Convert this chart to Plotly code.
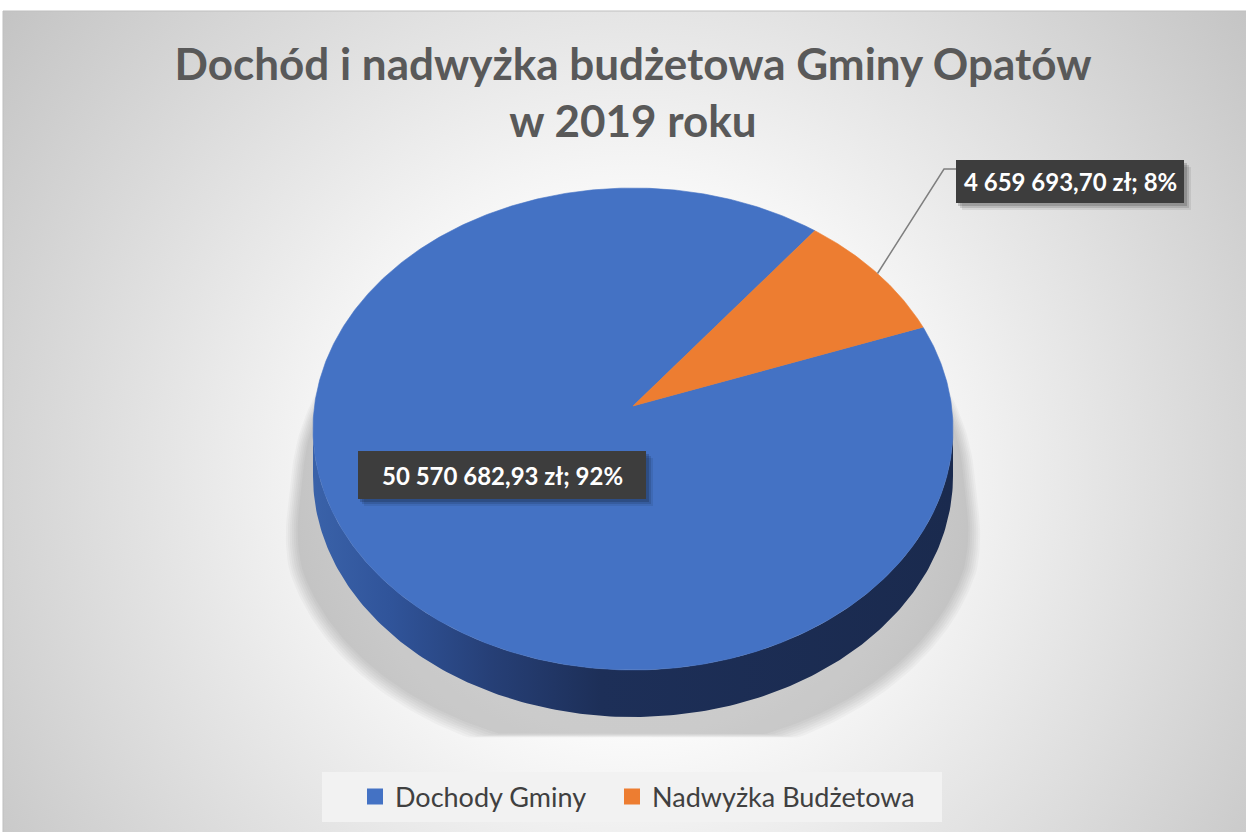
import base64
import numpy as np
import plotly.graph_objects as go

# ---------------- data ----------------
categories = ["Dochody Gminy", "Nadwyżka Budżetowa"]
values = [50570682.93, 4659693.70]
colors = ["#4472C4", "#ED7D31"]
title_lines = ["Dochód i nadwyżka budżetowa Gminy Opatów", "w 2019 roku"]

# ---------------- geometry / style ----------------
W, H = 1246, 832
CX, CY = 633, 429          # ellipse centre of top face (pixels)
RX, RY = 320, 241          # ellipse radii
APEX = (633, 406)          # apparent apex of the slices (perspective)
DEPTH = 47                 # thickness of the 3D pie
FIRST_ANGLE = 65           # angle of first slice (deg clockwise from top)
FONT = "Lato"
SHADOW_FLOOR = 734
LEGEND_X = [355, 612]      # left edge (px) of each legend entry


def ell(t_deg, dy=0.0, grow=0.0):
    t = np.radians(t_deg)
    return CX + (RX + grow) * np.sin(t), CY + dy - (RY + grow) * np.cos(t)


def fmt_money(v):
    s = f"{v:,.2f}"
    return s.replace(",", " ").replace(".", ",") + " zł"


total = sum(values)
angles = []
a = FIRST_ANGLE
for v in values:
    span = v / total * 360.0
    angles.append((a, a + span))
    a += span

fig = go.Figure()

# ---- soft perspective shadow behind/below the pie ----
for k in range(7):
    g = k * 1.8
    ts = np.linspace(-90, 90, 120)
    xt, yt = ell(ts, grow=g)
    ts2 = np.linspace(90, 270, 160)
    xb, yb = ell(ts2, dy=DEPTH, grow=g)
    xs = np.concatenate([xb, xt])
    ys = np.concatenate([yb, yt])
    ys2 = np.minimum(ys + 36 + g * 0.3, SHADOW_FLOOR + k * 0.6)
    f = 1 + 0.065 * np.clip((ys2 - 380) / 190, 0, 1)
    xs2 = CX + (xs - CX) * f
    fig.add_trace(go.Scatter(x=xs2, y=ys2, fill="toself", mode="lines",
                             line=dict(width=0), fillcolor="rgba(0,0,0,0.028)",
                             hoverinfo="skip", showlegend=False))

# ---- side wall (visible front half) ----
for (a0, a1), col in zip(angles, colors):
    lo = max(a0, 90)
    hi = min(a1, 270)
    if hi <= lo:
        continue
    ts = np.linspace(lo, hi, 200)
    xt, yt = ell(ts)
    xb, yb = ell(ts[::-1], dy=DEPTH)
    xs = np.concatenate([xt, xb])
    ys = np.concatenate([yt, yb])
    if col == "#4472C4":
        scale = [[0, "#3a62a9"], [0.12, "#30549a"], [0.28, "#263f76"],
                 [0.45, "#1d2f58"], [1, "#1a2a4e"]]
    else:
        scale = [[0, "#b85f22"], [1, "#7a3e14"]]
    fig.add_trace(go.Scatter(x=xs, y=ys, fill="toself", mode="lines",
                             line=dict(width=0),
                             fillgradient=dict(type="horizontal", colorscale=scale),
                             hoverinfo="skip", showlegend=False))

# ---- top faces ----
for (a0, a1), col, name in zip(angles, colors, categories):
    ts = np.linspace(a0, a1, max(int((a1 - a0) * 2), 10))
    xa, ya = ell(ts)
    xs = np.concatenate([[APEX[0]], xa, [APEX[0]]])
    ys = np.concatenate([[APEX[1]], ya, [APEX[1]]])
    fig.add_trace(go.Scatter(x=xs, y=ys, fill="toself", mode="lines",
                             line=dict(width=0.6, color=col), fillcolor=col,
                             hoverinfo="skip", showlegend=False, name=name))

# ---- legend entries (one legend per entry for Excel-like spacing) ----
legend_ids = ["legend", "legend2"]
for name, col, lid in zip(categories, colors, legend_ids):
    fig.add_trace(go.Scatter(x=[None], y=[None], mode="markers", name=name,
                             legend=lid,
                             marker=dict(symbol="square", size=16, color=col)))

# ---- data labels ----
labels = [f"{fmt_money(v)}; {round(v / total * 100)}%" for v in values]

shapes = []
annotations = []

# background gradient image
svg = f"""<svg xmlns='http://www.w3.org/2000/svg' width='{W}' height='{H}'>
<defs><radialGradient id='g' gradientUnits='userSpaceOnUse' cx='630' cy='470' r='800'>
<stop offset='0' stop-color='#ffffff'/><stop offset='0.33' stop-color='#fafafa'/>
<stop offset='1' stop-color='#c2c2c2'/></radialGradient></defs>
<rect x='0' y='0' width='{W}' height='{H}' fill='url(#g)'/></svg>"""
src = "data:image/svg+xml;base64," + base64.b64encode(svg.encode()).decode()

# label boxes (label 0: inside blue, label 1: outside with leader)
boxes = [(358, 451, 646, 499), (956, 160, 1184, 203)]
for (x0, y0, x1, y1), txt in zip(boxes, labels):
    for s, al in ((7, 0.08), (5, 0.12), (3, 0.16)):
        shapes.append(dict(type="rect", x0=x0 + s - 1, y0=y0 + s, x1=x1 + s, y1=y1 + s,
                           xref="x", yref="y", line=dict(width=0),
                           fillcolor=f"rgba(0,0,0,{al})"))
    shapes.append(dict(type="rect", x0=x0, y0=y0, x1=x1, y1=y1, xref="x", yref="y",
                       line=dict(width=0), fillcolor="#3d3d3d"))
    annotations.append(dict(x=(x0 + x1) / 2, y=(y0 + y1) / 2, xref="x", yref="y",
                            text=txt, showarrow=False,
                            font=dict(family=FONT, size=24, color="white", weight="bold")))

# leader line for the small slice
mid = (angles[1][0] + angles[1][1]) / 2
lx, ly = ell(mid)
bx0, by0 = boxes[1][0], 169
shapes.append(dict(type="path",
                   path=f"M {lx:.1f},{ly:.1f} L {bx0 - 12},{by0} L {bx0},{by0}",
                   xref="x", yref="y", line=dict(color="#7f7f7f", width=1.5)))

# legend background box
shapes.append(dict(type="rect", x0=322, y0=772, x1=942, y1=822, xref="x", yref="y",
                   line=dict(width=0), fillcolor="#f2f2f2", layer="above"))
# chart border
shapes.append(dict(type="rect", x0=3, y0=11, x1=W + 2, y1=H + 2, xref="x", yref="y",
                   line=dict(width=1, color="#bfbfbf"), layer="above"))

legend_style = dict(orientation="h", xanchor="left", y=1 - 797 / H,
                    yanchor="middle", bgcolor="rgba(0,0,0,0)",
                    font=dict(family=FONT, size=27, color="#404040"),
                    itemwidth=30)

fig.update_layout(
    width=W, height=H,
    margin=dict(l=0, r=0, t=0, b=0),
    paper_bgcolor="white", plot_bgcolor="rgba(0,0,0,0)",
    xaxis=dict(range=[0, W], visible=False, fixedrange=True),
    yaxis=dict(range=[H, 0], visible=False, fixedrange=True),
    images=[dict(source=src, xref="x", yref="y", x=3, y=11, sizex=W - 3, sizey=H - 11,
                 sizing="stretch", layer="below", xanchor="left", yanchor="top")],
    title=dict(text="<br>".join(title_lines), x=633 / W, xanchor="center",
               y=1 - 80 / H, yanchor="middle",
               font=dict(family=FONT, size=44, color="#595959", weight="bold")),
    legend=dict(x=LEGEND_X[0] / W, **legend_style),
    legend2=dict(x=LEGEND_X[1] / W, **legend_style),
    shapes=shapes, annotations=annotations,
    showlegend=True,
)

fig.write_html("out.html", config={"displayModeBar": False},
               post_script="document.body.style.margin='0px';")
